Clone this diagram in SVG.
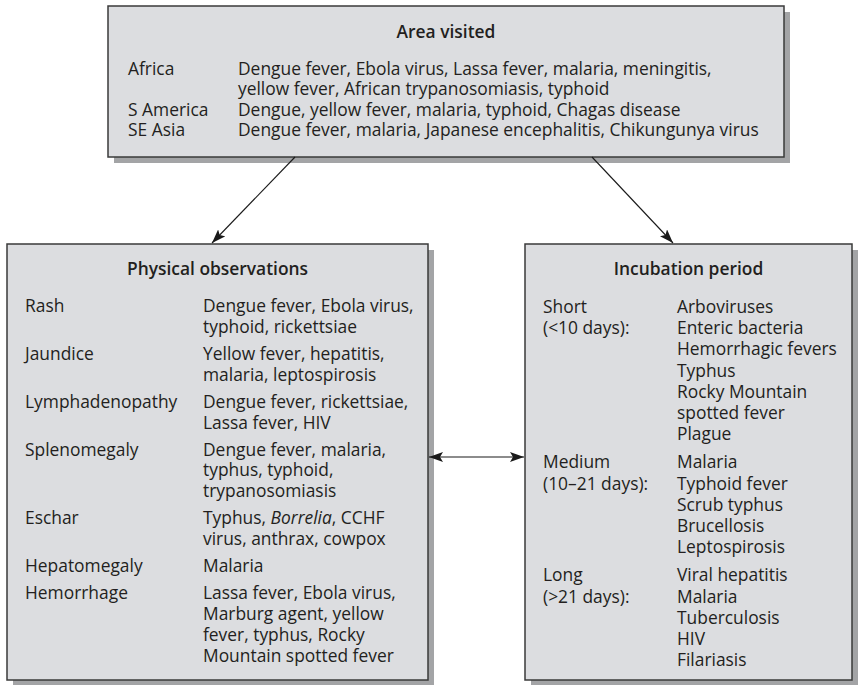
<svg xmlns="http://www.w3.org/2000/svg" width="858" height="685" viewBox="0 0 858 685">
  <style>
    .shadow { fill: #a3a4a6; }
    .box { fill: #dcdde0; stroke: #3a3a3a; stroke-width: 1.5; }
    text { font-family: "Open Sans", "Liberation Sans", sans-serif; font-size: 17.4px; fill: #231f20; }
    .title { font-weight: 600; text-anchor: middle; }
    .conn { stroke: #1a1a1a; stroke-width: 1.1; fill: none; }
  </style>
  <defs>
    <marker id="arrow" viewBox="0 0 14 10" refX="14" refY="5" markerWidth="14" markerHeight="10" markerUnits="userSpaceOnUse" orient="auto-start-reverse">
      <path d="M0,0 L14,5 L0,10 L3,5 Z" fill="#1a1a1a"/>
    </marker>
  </defs>

  <!-- Area visited -->
  <g id="area-visited">
    <rect class="shadow" x="114" y="12" width="676" height="151"/>
    <rect class="box" x="108" y="6" width="676" height="151"/>
    <text class="title" x="446" y="38">Area visited</text>
    <text x="128" y="75">Africa</text>
    <text x="238" y="75">Dengue fever, Ebola virus, Lassa fever, malaria, meningitis,</text>
    <text x="238" y="95.3">yellow fever, African trypanosomiasis, typhoid</text>
    <text x="128" y="115.6">S America</text>
    <text x="238" y="115.6">Dengue, yellow fever, malaria, typhoid, Chagas disease</text>
    <text x="128" y="136">SE Asia</text>
    <text x="238" y="136">Dengue fever, malaria, Japanese encephalitis, Chikungunya virus</text>
  </g>

  <!-- Physical observations -->
  <g id="physical-observations">
    <rect class="shadow" x="13" y="250" width="421" height="436"/>
    <rect class="box" x="7" y="244" width="421" height="436"/>
    <text class="title" x="217.5" y="275">Physical observations</text>
    <text x="25" y="312">Rash</text>
    <text x="203" y="312">Dengue fever, Ebola virus,</text>
    <text x="203" y="332.7">typhoid, rickettsiae</text>
    <text x="25" y="359.9">Jaundice</text>
    <text x="203" y="359.9">Yellow fever, hepatitis,</text>
    <text x="203" y="380.6">malaria, leptospirosis</text>
    <text x="25" y="407.8">Lymphadenopathy</text>
    <text x="203" y="407.8">Dengue fever, rickettsiae,</text>
    <text x="203" y="428.5">Lassa fever, HIV</text>
    <text x="25" y="455.7">Splenomegaly</text>
    <text x="203" y="455.7">Dengue fever, malaria,</text>
    <text x="203" y="476.4">typhus, typhoid,</text>
    <text x="203" y="497.1">trypanosomiasis</text>
    <text x="25" y="524.3">Eschar</text>
    <text x="203" y="524.3">Typhus, <tspan font-style="italic">Borrelia</tspan>, CCHF</text>
    <text x="203" y="545">virus, anthrax, cowpox</text>
    <text x="25" y="572.2">Hepatomegaly</text>
    <text x="203" y="572.2">Malaria</text>
    <text x="25" y="599.4">Hemorrhage</text>
    <text x="203" y="599.4">Lassa fever, Ebola virus,</text>
    <text x="203" y="620.1">Marburg agent, yellow</text>
    <text x="203" y="640.8">fever, typhus, Rocky</text>
    <text x="203" y="661.5">Mountain spotted fever</text>
  </g>

  <!-- Incubation period -->
  <g id="incubation-period">
    <rect class="shadow" x="531" y="250" width="327" height="436"/>
    <rect class="box" x="525" y="244" width="327" height="436"/>
    <text class="title" x="688.5" y="275">Incubation period</text>
    <text x="543" y="313">Short</text>
    <text x="543" y="334.2">(&lt;10 days):</text>
    <text x="677" y="313">Arboviruses</text>
    <text x="677" y="334.2">Enteric bacteria</text>
    <text x="677" y="355.4">Hemorrhagic fevers</text>
    <text x="677" y="376.6">Typhus</text>
    <text x="677" y="397.8">Rocky Mountain</text>
    <text x="677" y="419">spotted fever</text>
    <text x="677" y="440.2">Plague</text>
    <text x="543" y="468.4">Medium</text>
    <text x="543" y="489.6">(10–21 days):</text>
    <text x="677" y="468.4">Malaria</text>
    <text x="677" y="489.6">Typhoid fever</text>
    <text x="677" y="510.8">Scrub typhus</text>
    <text x="677" y="532">Brucellosis</text>
    <text x="677" y="553.2">Leptospirosis</text>
    <text x="543" y="581.4">Long</text>
    <text x="543" y="602.6">(&gt;21 days):</text>
    <text x="677" y="581.4">Viral hepatitis</text>
    <text x="677" y="602.6">Malaria</text>
    <text x="677" y="623.8">Tuberculosis</text>
    <text x="677" y="645">HIV</text>
    <text x="677" y="666.2">Filariasis</text>
  </g>

  <!-- Connectors -->
  <g id="connectors">
    <line class="conn" x1="295" y1="157" x2="212" y2="243" marker-end="url(#arrow)"/>
    <line class="conn" x1="592" y1="157" x2="673" y2="243" marker-end="url(#arrow)"/>
    <line class="conn" x1="429" y1="457" x2="524" y2="457" marker-start="url(#arrow)" marker-end="url(#arrow)"/>
  </g>
</svg>
